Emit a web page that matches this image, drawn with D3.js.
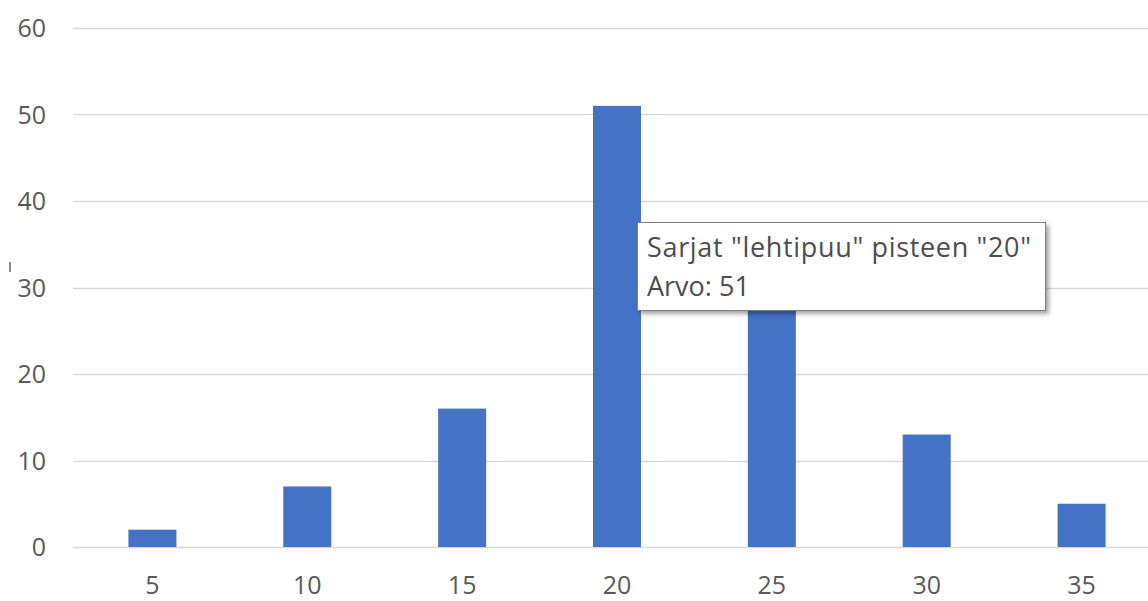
<!DOCTYPE html>
<html>
<head>
<meta charset="utf-8">
<script src="https://cdn.jsdelivr.net/npm/d3@7"></script>
<style>
  body { margin: 0; background: #fff; }
  svg { display: block; }
</style>
</head>
<body>
<svg id="chart"></svg>
<script>
var categories = ["5", "10", "15", "20", "25", "30", "35"];
var values = [2, 7, 16, 51, 32, 13, 5];
var seriesName = "lehtipuu";
var yTicks = [0, 10, 20, 30, 40, 50, 60];
var hoverIndex = 3;

var width = 1148;
var height = 601;

var svg = d3.select("#chart")
    .attr("width", width)
    .attr("height", height);

var y = d3.scaleLinear()
    .domain([0, 60])
    .range([547, 28]);

// the band range runs a bit past the right edge, like the cropped original
var x = d3.scaleBand()
    .domain(categories)
    .range([75, 1159])
    .paddingInner(0.69)
    .paddingOuter(0.345);

// gridlines
svg.selectAll(".grid")
    .data(yTicks)
    .enter()
    .append("line")
    .attr("x1", 73)
    .attr("x2", width)
    .attr("y1", function(d) { return Math.round(y(d)) + 0.5; })
    .attr("y2", function(d) { return Math.round(y(d)) + 0.5; })
    .attr("stroke", "#d9d9d9")
    .attr("stroke-width", 1.3);

// y labels
svg.selectAll(".ylab")
    .data(yTicks)
    .enter()
    .append("text")
    .attr("x", 46)
    .attr("y", function(d) { return y(d); })
    .attr("dy", "0.36em")
    .attr("text-anchor", "end")
    .style("font-family", "'Open Sans', 'DejaVu Sans', sans-serif")
    .style("font-size", "25px")
    .style("fill", "#595959")
    .text(function(d) { return d; });

// bars
svg.selectAll(".bar")
    .data(values)
    .enter()
    .append("rect")
    .attr("x", function(d, i) { return x(categories[i]); })
    .attr("y", function(d) { return y(d); })
    .attr("width", x.bandwidth())
    .attr("height", function(d) { return y(0) - y(d); })
    .attr("fill", "#4472c4");

// x labels
svg.selectAll(".xlab")
    .data(categories)
    .enter()
    .append("text")
    .attr("x", function(d) { return x(d) + x.bandwidth() / 2; })
    .attr("y", 594)
    .attr("text-anchor", "middle")
    .style("font-family", "'Open Sans', 'DejaVu Sans', sans-serif")
    .style("font-size", "25px")
    .style("fill", "#595959")
    .text(function(d) { return d; });

// little clipped mark at the far left
svg.append("rect")
    .attr("x", 9).attr("y", 262)
    .attr("width", 2).attr("height", 10)
    .attr("fill", "#8c8c8c");

// tooltip
var tip = svg.append("g").attr("transform", "translate(637,222)");

var defs = svg.append("defs");
var f = defs.append("filter").attr("id", "shadow")
    .attr("x", "-5%").attr("y", "-10%").attr("width", "115%").attr("height", "130%");
f.append("feDropShadow")
    .attr("dx", 3).attr("dy", 3).attr("stdDeviation", 2)
    .attr("flood-color", "#000").attr("flood-opacity", 0.35);

tip.append("rect")
    .attr("x", 0.5).attr("y", 0.5)
    .attr("width", 408).attr("height", 88)
    .attr("fill", "#fff")
    .attr("stroke", "#7f7f7f")
    .attr("stroke-width", 1)
    .attr("filter", "url(#shadow)");

var tipLines = [
    'Sarjat "' + seriesName + '" pisteen "' + categories[hoverIndex] + '"',
    "Arvo: " + values[hoverIndex]
];

tip.selectAll("text")
    .data(tipLines)
    .enter()
    .append("text")
    .attr("x", 10)
    .attr("y", function(d, i) { return 35 + i * 39; })
    .attr("textLength", function(d, i) { return i === 0 ? 384 : null; })
    .style("font-family", "'Open Sans', 'DejaVu Sans', sans-serif")
    .style("font-size", "27px")
    .style("fill", "#4d4d4d")
    .text(function(d) { return d; });
</script>
</body>
</html>
